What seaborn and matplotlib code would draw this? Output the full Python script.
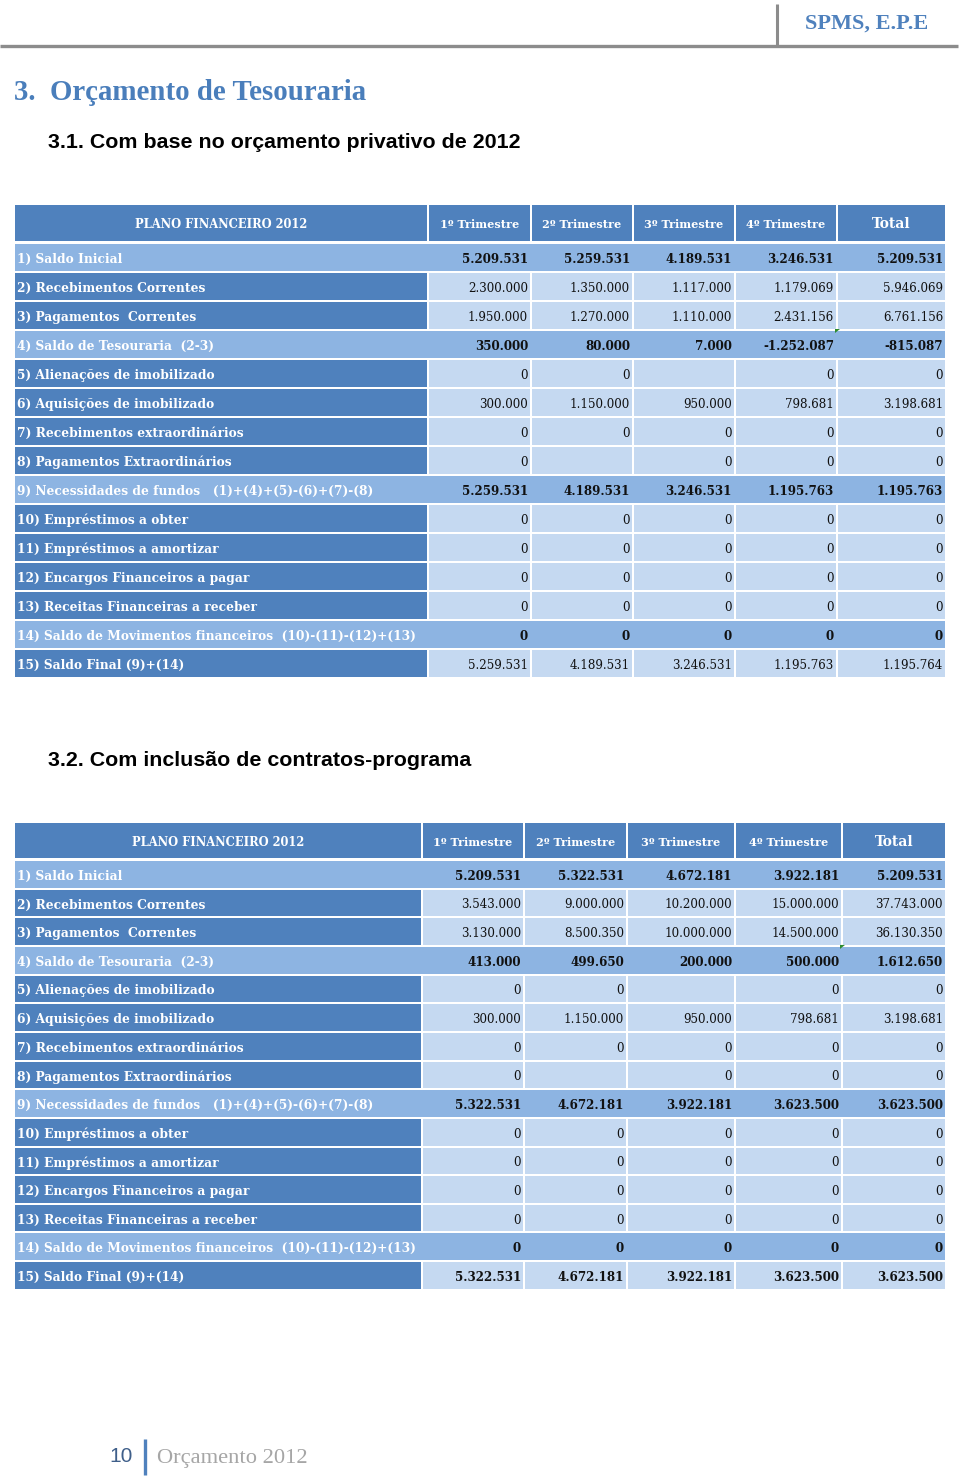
import matplotlib.pyplot as plt
from matplotlib.patches import Rectangle, Polygon
import seaborn as sns

# --- Dados ---
row_labels = [
    "1) Saldo Inicial",
    "2) Recebimentos Correntes",
    "3) Pagamentos  Correntes",
    "4) Saldo de Tesouraria  (2-3)",
    "5) Alienações de imobilizado",
    "6) Aquisições de imobilizado",
    "7) Recebimentos extraordinários",
    "8) Pagamentos Extraordinários",
    "9) Necessidades de fundos   (1)+(4)+(5)-(6)+(7)-(8)",
    "10) Empréstimos a obter",
    "11) Empréstimos a amortizar",
    "12) Encargos Financeiros a pagar",
    "13) Receitas Financeiras a receber",
    "14) Saldo de Movimentos financeiros  (10)-(11)-(12)+(13)",
    "15) Saldo Final (9)+(14)",
]
col_labels = ["1º Trimestre", "2º Trimestre", "3º Trimestre", "4º Trimestre", "Total"]
span_rows = [0, 3, 8, 13]   # linhas de subtotal (fundo contínuo)

# Tabela 3.1 - orçamento privativo
t1_q1 = [5209531, 2300000, 1950000, 350000, 0, 300000, 0, 0, 5259531, 0, 0, 0, 0, 0, 5259531]
t1_q2 = [5259531, 1350000, 1270000, 80000, 0, 1150000, 0, None, 4189531, 0, 0, 0, 0, 0, 4189531]
t1_q3 = [4189531, 1117000, 1110000, 7000, None, 950000, 0, 0, 3246531, 0, 0, 0, 0, 0, 3246531]
t1_q4 = [3246531, 1179069, 2431156, -1252087, 0, 798681, 0, 0, 1195763, 0, 0, 0, 0, 0, 1195763]
t1_total = [5209531, 5946069, 6761156, -815087, 0, 3198681, 0, 0, 1195763, 0, 0, 0, 0, 0, 1195764]

# Tabela 3.2 - com contratos-programa
t2_q1 = [5209531, 3543000, 3130000, 413000, 0, 300000, 0, 0, 5322531, 0, 0, 0, 0, 0, 5322531]
t2_q2 = [5322531, 9000000, 8500350, 499650, 0, 1150000, 0, None, 4672181, 0, 0, 0, 0, 0, 4672181]
t2_q3 = [4672181, 10200000, 10000000, 200000, None, 950000, 0, 0, 3922181, 0, 0, 0, 0, 0, 3922181]
t2_q4 = [3922181, 15000000, 14500000, 500000, 0, 798681, 0, 0, 3623500, 0, 0, 0, 0, 0, 3623500]
t2_total = [5209531, 37743000, 36130350, 1612650, 0, 3198681, 0, 0, 3623500, 0, 0, 0, 0, 0, 3623500]

sns.set_theme(style="white")
plt.rcParams['font.family'] = ['DejaVu Serif']

dark_blue, mid_blue, light_blue = sns.color_palette(["#4F81BD", "#8DB4E2", "#C5D9F1"])


def fmt(v):
    if v is None:
        return ""
    return f"{v:,}".replace(",", ".")


def draw_table(ax, columns, top, pitch, head_h, left, col_edges, bold_last):
    right = col_edges[-1][1]
    # cabeçalho
    ax.add_patch(Rectangle((left[0], top), left[1] - left[0], head_h, color=dark_blue, lw=0))
    ax.text((left[0] + left[1]) / 2, top + head_h / 2 + 1.5, "PLANO FINANCEIRO 2012", color='white',
            fontsize=8.3, fontweight='bold', ha='center', va='center')
    for (x0, x1), lab in zip(col_edges, col_labels):
        ax.add_patch(Rectangle((x0, top), x1 - x0, head_h, color=dark_blue, lw=0))
        ax.text((x0 + x1) / 2, top + head_h / 2 + 1.5, lab, color='white',
                fontsize=10 if lab == "Total" else 8.1, fontweight='bold', ha='center', va='center')

    y0 = top + head_h + 3
    h = pitch - 2
    for i, lab in enumerate(row_labels):
        y = y0 + i * pitch
        yc = y + h / 2 + 2
        if i in span_rows:
            ax.add_patch(Rectangle((left[0], y), right - left[0], h, color=mid_blue, lw=0))
            bold = True
        else:
            ax.add_patch(Rectangle((left[0], y), left[1] - left[0], h, color=dark_blue, lw=0))
            for x0, x1 in col_edges:
                ax.add_patch(Rectangle((x0, y), x1 - x0, h, color=light_blue, lw=0))
            bold = bold_last and i == len(row_labels) - 1
        ax.text(left[0] + 2, yc, lab, color='white', fontsize=8.85, fontweight='bold',
                ha='left', va='center')
        for (x0, x1), col in zip(col_edges, columns):
            ax.text(x1 - 2, yc, fmt(col[i]), color='#111111', fontsize=8.6,
                    fontweight='bold' if bold else 'normal', ha='right', va='center')
    # indicador de comentário (Excel)
    cx, cy = col_edges[3][1], y0 + 3 * pitch - 2
    ax.add_patch(Polygon([(cx - 1, cy), (cx + 4, cy), (cx - 1, cy + 4)], color='#2E8B2E', lw=0))


fig = plt.figure(figsize=(9.6, 14.78), dpi=100)
ax = fig.add_axes([0, 0, 1, 1])
ax.set_xlim(0, 960)
ax.set_ylim(1478, 0)
ax.axis('off')

# cabeçalho da página
ax.plot([0, 958], [46, 46], color='#8C8C8C', lw=2.4, solid_capstyle='butt')
ax.plot([777, 777], [4, 46], color='#8C8C8C', lw=2.2, solid_capstyle='butt')
ax.text(928, 24, "SPMS, E.P.E", color='#4F81BD', fontsize=16, fontweight='bold',
        family='Liberation Serif', ha='right', va='center')

ax.text(14, 92, "3.  Orçamento de Tesouraria", color='#4A7EBB', fontsize=20.8, fontweight='bold',
        family='Liberation Serif', ha='left', va='center')
ax.text(48, 142, "3.1. Com base no orçamento privativo de 2012", color='black', fontsize=15.4,
        fontweight='bold', family='Liberation Sans', ha='left', va='center')

draw_table(ax, [t1_q1, t1_q2, t1_q3, t1_q4, t1_total], top=205, pitch=29, head_h=36,
           left=(15, 427), col_edges=[(429, 530), (532, 632), (634, 734), (736, 836), (838, 945)],
           bold_last=False)

ax.text(48, 761, "3.2. Com inclusão de contratos-programa", color='black', fontsize=15.4,
        fontweight='bold', family='Liberation Sans', ha='left', va='center')

draw_table(ax, [t2_q1, t2_q2, t2_q3, t2_q4, t2_total], top=823, pitch=28.65, head_h=35,
           left=(15, 421), col_edges=[(423, 523), (525, 626), (628, 734), (736, 841), (843, 945)],
           bold_last=True)

# rodapé
ax.text(133, 1457, "10", color='#3F5F8A', fontsize=15, family='Liberation Sans', ha='right', va='center')
ax.plot([145, 145], [1439, 1475], color='#4F81BD', lw=2.4, solid_capstyle='butt')
ax.text(157, 1458, "Orçamento 2012", color='#A6A6A6', fontsize=16.2, family='Liberation Serif',
        ha='left', va='center')

plt.savefig('out.png', dpi=100)
